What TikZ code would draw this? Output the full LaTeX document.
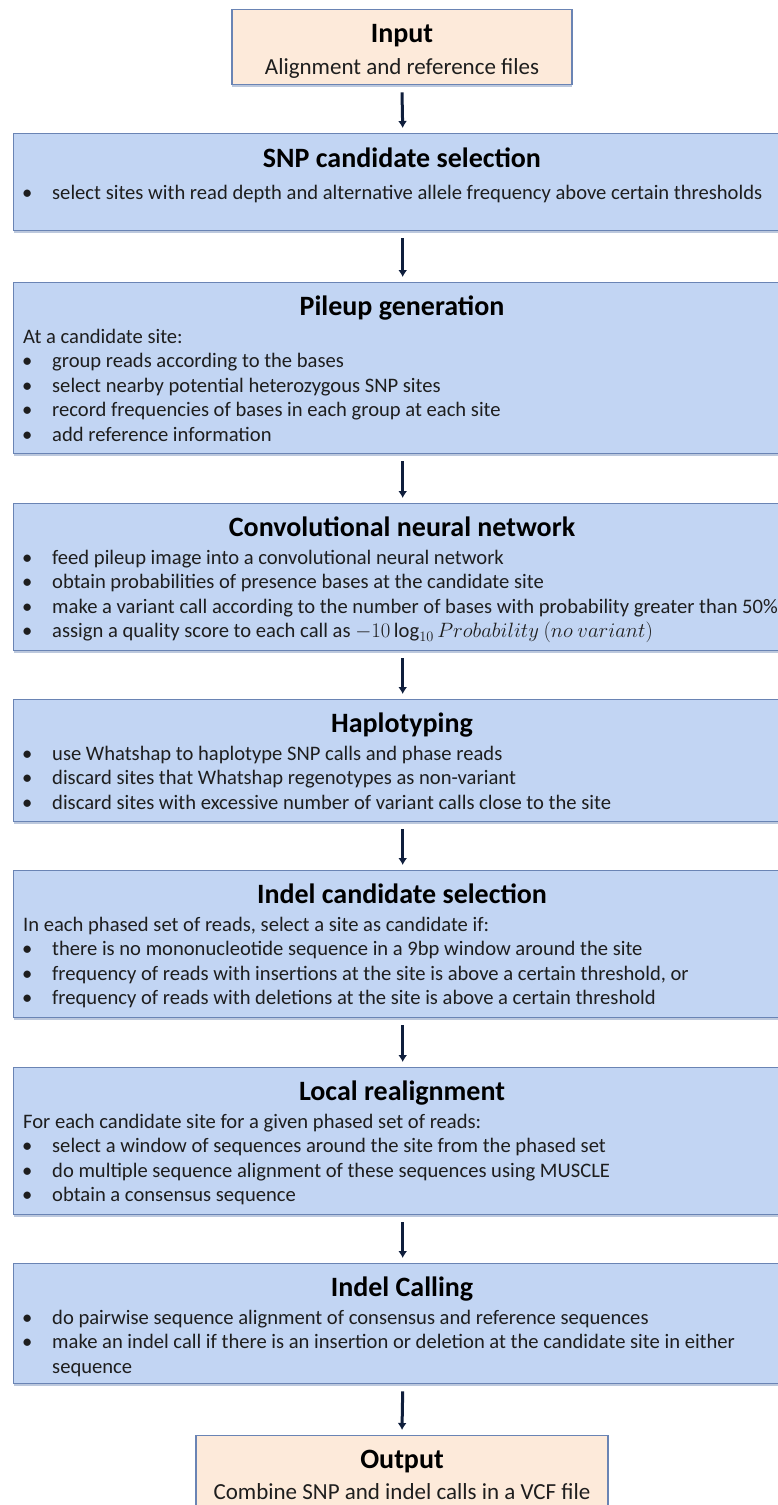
\documentclass[tikz,border=0pt]{standalone}
\usepackage{fontspec}
\setmainfont{Carlito}
\usetikzlibrary{arrows.meta}
\usetikzlibrary{shadows}

\definecolor{boxblue}{HTML}{C2D5F3}
\definecolor{boxpeach}{HTML}{FDEADA}
\definecolor{boxline}{HTML}{6A84B4}
\definecolor{arrowblue}{HTML}{0F1E3C}
\definecolor{textgray}{HTML}{1E1E1E}

\newcommand{\itembul}{\makebox[30pt][l]{\textbullet}}

\begin{document}
\begin{tikzpicture}[x=1pt, y=-1pt,
        stage_style/.style={draw=boxline, fill=boxblue, line width=1.4pt, anchor=north west, inner sep=0pt, minimum width=778pt,
                drop shadow={shadow xshift=0pt, shadow yshift=-2pt, opacity=0.45, fill=boxline}},
        io_style/.style={draw=boxline, fill=boxpeach, line width=1.4pt, anchor=north, inner sep=0pt,
                drop shadow={shadow xshift=0pt, shadow yshift=-2pt, opacity=0.45, fill=boxline}},
        title_style/.style={anchor=base, inner sep=0pt, font=\fontsize{28}{33}\selectfont\bfseries},
        sub_style/.style={anchor=base, inner sep=0pt, text=textgray, font=\fontsize{23}{28}\selectfont},
        line_style/.style={anchor=base west, inner sep=0pt, text=textgray, font=\fontsize{20.6}{24.5}\selectfont},
        arrow_style/.style={draw=arrowblue, line width=3pt, -{Latex[length=7pt,width=9pt]}}]

        \useasboundingbox (0,0) rectangle (778,1505);
        \clip (0,0) rectangle (778,1505);

        % boxes
        \node [io_style, minimum width=340pt, minimum height=75pt] (input) at (402,9) {};
        \node [stage_style, minimum height=97pt] (snp) at (13,133) {};
        \node [stage_style, minimum height=171pt] (pileup) at (13,282) {};
        \node [stage_style, minimum height=147pt] (cnn) at (13,503) {};
        \node [stage_style, minimum height=122pt] (hap) at (13,699) {};
        \node [stage_style, minimum height=147pt] (indel) at (13,870) {};
        \node [stage_style, minimum height=147pt] (realign) at (13,1067) {};
        \node [stage_style, minimum height=120pt] (calling) at (13,1263) {};
        \node [io_style, minimum width=412pt, minimum height=90pt] (output) at (402,1435) {};

        % input
        \node [title_style] (input_t) at (402,42) {Input};
        \node [sub_style] (input_s) at (402,74) {Alignment and reference files};

        % SNP candidate selection
        \node [title_style] (snp_t) at (402,167) {SNP candidate selection};
        \node [line_style] (snp_1) at (22,199) {\itembul select sites with read depth and alternative allele frequency above certain thresholds};

        % pileup generation
        \node [title_style] (pileup_t) at (402,315) {Pileup generation};
        \node [line_style] (pileup_1) at (23,343) {At a candidate site:};
        \node [line_style] (pileup_2) at (22,367.5) {\itembul group reads according to the bases};
        \node [line_style] (pileup_3) at (22,392) {\itembul select nearby potential heterozygous SNP sites};
        \node [line_style] (pileup_4) at (22,416.5) {\itembul record frequencies of bases in each group at each site};
        \node [line_style] (pileup_5) at (22,441) {\itembul add reference information};

        % convolutional neural network
        \node [title_style] (cnn_t) at (402,536) {Convolutional neural network};
        \node [line_style] (cnn_1) at (22,564) {\itembul feed pileup image into a convolutional neural network};
        \node [line_style] (cnn_2) at (22,588.5) {\itembul obtain probabilities of presence bases at the candidate site};
        \node [line_style] (cnn_3) at (22,613) {\itembul make a variant call according to the number of bases with probability greater than 50\%};
        \node [line_style] (cnn_4) at (22,637.5) {\itembul assign a quality score to each call as $-10\log_{10} Probability\ (no\ variant)$};

        % haplotyping
        \node [title_style] (hap_t) at (402,732) {Haplotyping};
        \node [line_style] (hap_1) at (22,760) {\itembul use Whatshap to haplotype SNP calls and phase reads};
        \node [line_style] (hap_2) at (22,784.5) {\itembul discard sites that Whatshap regenotypes as non-variant};
        \node [line_style] (hap_3) at (22,809) {\itembul discard sites with excessive number of variant calls close to the site};

        % indel candidate selection
        \node [title_style] (indel_t) at (402,903) {Indel candidate selection};
        \node [line_style] (indel_1) at (23,931) {In each phased set of reads, select a site as candidate if:};
        \node [line_style] (indel_2) at (22,955.5) {\itembul there is no mononucleotide sequence in a 9bp window around the site};
        \node [line_style] (indel_3) at (22,980) {\itembul frequency of reads with insertions at the site is above a certain threshold, or};
        \node [line_style] (indel_4) at (22,1004.5) {\itembul frequency of reads with deletions at the site is above a certain threshold};

        % local realignment
        \node [title_style] (realign_t) at (402,1100) {Local realignment};
        \node [line_style] (realign_1) at (23,1128) {For each candidate site for a given phased set of reads:};
        \node [line_style] (realign_2) at (22,1152.5) {\itembul select a window of sequences around the site from the phased set};
        \node [line_style] (realign_3) at (22,1177) {\itembul do multiple sequence alignment of these sequences using MUSCLE};
        \node [line_style] (realign_4) at (22,1201.5) {\itembul obtain a consensus sequence};

        % indel calling
        \node [title_style] (calling_t) at (402,1296) {Indel Calling};
        \node [line_style] (calling_1) at (22,1324) {\itembul do pairwise sequence alignment of consensus and reference sequences};
        \node [line_style] (calling_2) at (22,1348.5) {\itembul make an indel call if there is an insertion or deletion at the candidate site in either};
        \node [line_style] (calling_3) at (52,1373) {sequence};

        % output
        \node [title_style] (output_t) at (402,1468) {Output};
        \node [sub_style] (output_s) at (402,1499) {Combine SNP and indel calls in a VCF file};

        % arrows
        \draw [arrow_style] ([yshift=-7pt]input.south) -- ([yshift=5pt]snp.north);
        \draw [arrow_style] ([yshift=-7pt]snp.south) -- ([yshift=5pt]pileup.north);
        \draw [arrow_style] ([yshift=-7pt]pileup.south) -- ([yshift=5pt]cnn.north);
        \draw [arrow_style] ([yshift=-7pt]cnn.south) -- ([yshift=5pt]hap.north);
        \draw [arrow_style] ([yshift=-7pt]hap.south) -- ([yshift=5pt]indel.north);
        \draw [arrow_style] ([yshift=-7pt]indel.south) -- ([yshift=5pt]realign.north);
        \draw [arrow_style] ([yshift=-7pt]realign.south) -- ([yshift=5pt]calling.north);
        \draw [arrow_style] ([yshift=-7pt]calling.south) -- ([yshift=5pt]output.north);

        \end{tikzpicture}
\end{document}
